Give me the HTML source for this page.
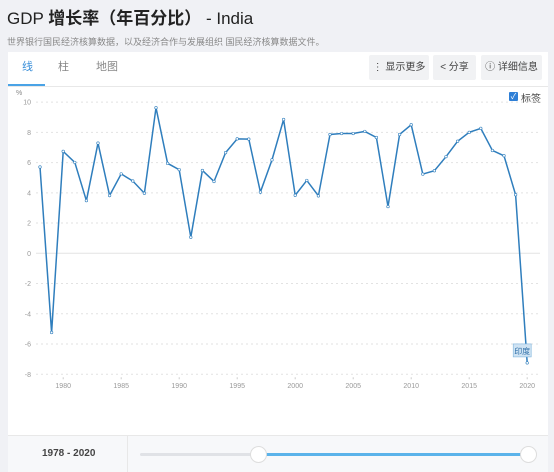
<!DOCTYPE html>
<html><head><meta charset="utf-8"><style>
body{margin:0;width:554px;height:469px;background:#f0f1f5;font-family:"Liberation Sans","Noto Sans CJK SC",sans-serif;position:relative;overflow:hidden}
.abs{position:absolute}
.btn{position:absolute;top:55px;height:25px;background:#f1f2f4;border-radius:2px;font-size:10px;color:#444;line-height:25px;text-align:center}
</style></head><body>
<div class="abs" style="left:7px;top:4px;font-size:17px;color:#222">GDP <b>增长率（年百分比）</b> - India</div>
<div class="abs" style="left:7px;top:35px;font-size:9px;color:#888">世界银行国民经济核算数据，以及经济合作与发展组织 国民经济核算数据文件。</div>
<div class="abs" style="left:8px;top:52px;width:540px;height:420px;background:#fff"></div>
<div class="abs" style="left:22px;top:58px;font-size:11px;color:#3a8fd9">线</div>
<div class="abs" style="left:58px;top:58px;font-size:11px;color:#888">柱</div>
<div class="abs" style="left:96px;top:58px;font-size:11px;color:#888">地图</div>
<div class="abs" style="left:8px;top:84px;width:37px;height:2px;background:#4aa3e6"></div>
<div class="abs" style="left:8px;top:86px;width:540px;height:1px;background:#e8e8e8"></div>
<div class="btn" style="left:369px;width:60px">⋮ 显示更多</div>
<div class="btn" style="left:433px;width:43px">&lt; 分享</div>
<div class="btn" style="left:481px;width:61px">ⓘ 详细信息</div>
<div class="abs" style="left:509px;top:92px;width:9px;height:9px;background:#2f7fd6;border-radius:1px;color:#fff;font-size:8px;line-height:9px;text-align:center">✓</div>
<div class="abs" style="left:521px;top:90px;font-size:10px;color:#444">标签</div>
<svg class="abs" style="left:0;top:0" width="554" height="469" id="svg"></svg>
<div class="abs" style="left:8px;top:435px;width:540px;height:1px;background:#e8e8e8"></div>
<div class="abs" style="left:8px;top:436px;width:540px;height:36px;background:#f7f8fa"></div>
<div class="abs" style="left:127px;top:436px;width:1px;height:36px;background:#e8e8e8"></div>
<div class="abs" style="left:42px;top:448px;font-size:10px;font-weight:bold;color:#444">1978 - 2020</div>
<div class="abs" style="left:140px;top:453px;width:390px;height:3px;background:#e0e2e6;border-radius:2px"></div>
<div class="abs" style="left:258px;top:453px;width:270px;height:3px;background:#5bb3ea"></div>
<div class="abs" style="left:250px;top:446px;width:15px;height:15px;border:1px solid #ddd;border-radius:50%;background:#fff"></div>
<div class="abs" style="left:520px;top:446px;width:15px;height:15px;border:1px solid #ddd;border-radius:50%;background:#fff"></div>
<script>
const years=[1978,1979,1980,1981,1982,1983,1984,1985,1986,1987,1988,1989,1990,1991,1992,1993,1994,1995,1996,1997,1998,1999,2000,2001,2002,2003,2004,2005,2006,2007,2008,2009,2010,2011,2012,2013,2014,2015,2016,2017,2018,2019,2020];
const growth=[5.71,-5.24,6.74,6.01,3.48,7.29,3.82,5.25,4.78,3.97,9.63,5.95,5.53,1.06,5.48,4.75,6.66,7.57,7.55,4.05,6.18,8.85,3.84,4.82,3.80,7.86,7.92,7.92,8.06,7.66,3.09,7.86,8.50,5.24,5.46,6.39,7.41,8.00,8.26,6.80,6.45,3.87,-7.25];
const yTicks=[10,8,6,4,2,0,-2,-4,-6,-8];
const xTicks=[1980,1985,1990,1995,2000,2005,2010,2015,2020];
const NS='http://www.w3.org/2000/svg',svg=document.getElementById('svg');
const X=y=>40+(y-1978)*11.6, Y=v=>253.3-v*15.12;
function mk(t,a,txt){const e=document.createElementNS(NS,t);for(const k in a)e.setAttribute(k,a[k]);if(txt!=null)e.textContent=txt;svg.appendChild(e);return e;}
const u=mk('text',{x:16,y:95,'font-size':7,fill:'#888'},'%');

yTicks.forEach(v=>{
 const l=mk('line',{x1:36,x2:540,y1:Y(v),y2:Y(v),stroke:v===0?'#e4e4e4':'#e2e2e2','stroke-dasharray':v===0?'':'2,3'});
 
 const t=mk('text',{x:31,y:Y(v)+2.5,'font-size':7,fill:'#999','text-anchor':'end'},v);
 
});
xTicks.forEach(y=>{
 const l=mk('line',{x1:X(y),x2:X(y),y1:Y(-8)+3,y2:Y(-8)+5,stroke:'#ccc'});
 
 const t=mk('text',{x:X(y),y:388,'font-size':7,fill:'#999','text-anchor':'middle'},y);
 
});
const p=mk('polyline',{points:years.map((y,i)=>X(y)+','+Y(growth[i])).join(' '),fill:'none',stroke:'#2f7ebd','stroke-width':1.5});

years.forEach((y,i)=>{const c=mk('circle',{cx:X(y),cy:Y(growth[i]),r:1.3,fill:'#fff',stroke:'#2f7ebd','stroke-width':0.6});
 });
const lx=X(2020),ly=Y(growth[growth.length-1]);
const r=mk('rect',{x:lx-14,y:ly-19,width:18,height:13,fill:'#cfe3f3',stroke:'#7fb4dc','stroke-width':0.6});

const lt=mk('text',{x:lx-5,y:ly-9,'font-size':8,fill:'#2f6fa8','text-anchor':'middle'},'印度');

</script>
</body></html>
